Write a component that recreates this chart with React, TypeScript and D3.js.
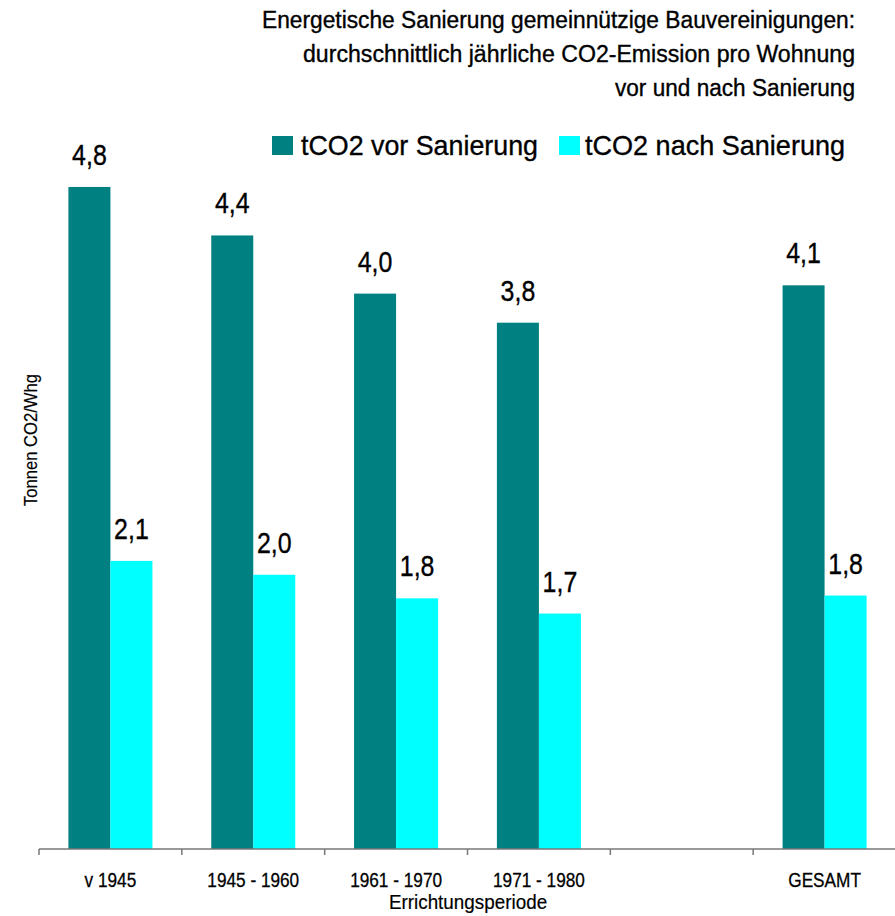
import React from "react";
import * as d3 from "d3";

// Errichtungsperiode (one empty slot between 1971-1980 and GESAMT)
const categories = ["v 1945", "1945 - 1960", "1961 - 1970", "1971 - 1980", "", "GESAMT"];
const seriesNames = ["tCO2 vor Sanierung", "tCO2 nach Sanierung"];
const vorSanierung = [4.78, 4.43, 4.01, 3.8, null, 4.07];
const nachSanierung = [2.08, 1.98, 1.81, 1.7, null, 1.83];
const titleLines = [
  "Energetische Sanierung gemeinnützige Bauvereinigungen:",
  "durchschnittlich jährliche CO2-Emission pro Wohnung",
  "vor und nach Sanierung",
];

const W = 895;
const H = 916;
const FONT = "'Liberation Sans', Arial, sans-serif";
const colors = ["#008080", "#00FFFF"];

const fmt = (v: number) => v.toFixed(1).replace(".", ",");

// narrow-looking text: squeeze a regular sans horizontally around its anchor
function NText(props: { x: number; y: number; sx: number; size: number; anchor?: string; children: any; bold?: number }) {
  const { x, y, sx, size, anchor = "middle", children, bold = 0.35 } = props;
  return (
    <g transform={`translate(${x},${y}) scale(${sx},1)`}>
      <text textAnchor={anchor} fontSize={size} stroke="#000" strokeWidth={bold}>
        {children}
      </text>
    </g>
  );
}

export default function App() {
  const x0 = d3.scaleBand<number>().domain(d3.range(categories.length)).range([39, 896]);
  const x1 = d3.scaleBand<number>().domain([0, 1]).range([0, x0.bandwidth()]).paddingOuter(0.7);
  const y = d3.scaleLinear().domain([0, 6]).range([849, 18]);

  const series = [vorSanierung, nachSanierung];
  const ticks = d3.range(categories.length + 1).map((i) =>
    i < categories.length ? (x0(i) as number) : (x0(i - 1) as number) + x0.bandwidth()
  );

  return (
    <svg
      width={W}
      height={H}
      style={{ position: "absolute", left: 0, top: 0, background: "#fff" }}
      fontFamily={FONT}
    >
      {/* title */}
      <g fill="#000" stroke="#000" strokeWidth={0.35} fontSize={23} textAnchor="end">
        <text x={855} y={28} textLength={593} lengthAdjust="spacingAndGlyphs">{titleLines[0]}</text>
        <text x={855} y={62} textLength={552} lengthAdjust="spacingAndGlyphs">{titleLines[1]}</text>
        <text x={855} y={96} textLength={240} lengthAdjust="spacingAndGlyphs">{titleLines[2]}</text>
      </g>

      {/* legend */}
      <g fontSize={28} stroke="#000" strokeWidth={0.35}>
        <rect x={272} y={136} width={21} height={19} fill={colors[0]} stroke="none" />
        <text x={301} y={155} textLength={237} lengthAdjust="spacingAndGlyphs">{seriesNames[0]}</text>
        <rect x={559} y={136} width={21} height={19} fill={colors[1]} stroke="none" />
        <text x={585} y={155} textLength={260} lengthAdjust="spacingAndGlyphs">{seriesNames[1]}</text>
      </g>

      {/* bars */}
      {series.map((vals, s) =>
        vals.map((v, i) =>
          v == null ? null : (
            <g key={`${s}-${i}`}>
              <rect
                x={(x0(i) as number) + (x1(s) as number)}
                y={y(v)}
                width={x1.bandwidth()}
                height={y(0) - y(v)}
                fill={colors[s]}
              />
              <NText
                x={(x0(i) as number) + (x1(s) as number) + x1.bandwidth() / 2}
                y={y(v) - 22}
                sx={0.86}
                size={29}
              >
                {fmt(v)}
              </NText>
            </g>
          )
        )
      )}

      {/* x axis */}
      <line x1={39} x2={896} y1={849} y2={849} stroke="#777" strokeWidth={1.5} />
      {ticks.map((t, i) => (
        <line key={i} x1={t} x2={t} y1={849} y2={855} stroke="#777" strokeWidth={1.5} />
      ))}
      {categories.map((c, i) => (
        <NText key={i} x={(x0(i) as number) + x0.bandwidth() / 2} y={887} sx={0.84} size={20.5} bold={0.3}>
          {c}
        </NText>
      ))}
      <NText x={468} y={909} sx={0.92} size={20.5} bold={0.2}>
        Errichtungsperiode
      </NText>

      {/* y title */}
      <g transform="translate(37,440) rotate(-90)">
        <NText x={0} y={0} sx={0.95} size={17.5} bold={0.2}>
          Tonnen CO2/Whg
        </NText>
      </g>
    </svg>
  );
}
